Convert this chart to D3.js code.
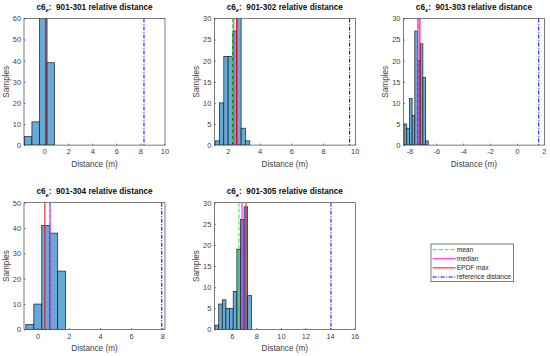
<!DOCTYPE html>
<html>
<head>
<meta charset="utf-8">
<script src="https://cdn.jsdelivr.net/npm/d3@7"></script>
<style>
  body { margin: 0; background: #fff; }
  svg { font-family: "Liberation Sans", Arial, sans-serif; }
</style>
</head>
<body>
<script>
// DATA

const pairs = ["901-301", "901-302", "901-303", "901-304", "901-305"];

const edges301 = [-1.66, -1.03, -0.40, 0.23, 0.86];
const counts301 = [4, 11, 63, 39];
const edges302 = [1.20, 1.47, 1.75, 2.02, 2.29, 2.57, 2.84, 3.11, 3.39];
const counts302 = [1, 10, 21, 21, 27, 32, 4, 1];
const edges303 = [-8.4, -8.2, -8.0, -7.8, -7.6, -7.4, -7.2, -7.0, -6.8, -6.6];
const counts303 = [5, 4, 11, 7, 27, 20, 24, 16, 1];
const edges304 = [-0.75, -0.24, 0.27, 0.78, 1.29, 1.80];
const counts304 = [2, 10, 41, 38, 23];
const edges305 = [4.63, 4.93, 5.22, 5.52, 5.81, 6.11, 6.41, 6.70, 7.00, 7.29, 7.59];
const counts305 = [1, 6, 7, 5, 5, 9, 19, 26, 29, 8];

const meanVals = [0.10, 2.30, -7.38, 0.80, 6.58];
const medianVals = [0.10, 2.38, -7.36, 0.80, 6.83];
const epdfMaxVals = [0.13, 2.56, -7.22, 0.47, 7.15];
const refVals = [8.30, 9.68, 1.63, 7.96, 14.08];

const xDomains = [[-1.69, 10.05], [1.15, 10.04], [-8.45, 2.05], [-0.87, 8.17], [4.57, 16.06]];
const yMaxes = [60, 30, 30, 50, 30];
const xTickVals = [[0, 2, 4, 6, 8, 10], [2, 4, 6, 8, 10], [-8, -6, -4, -2, 0, 2], [0, 2, 4, 6, 8], [6, 8, 10, 12, 14, 16]];
const yTickVals = [[0, 10, 20, 30, 40, 50, 60], [0, 5, 10, 15, 20, 25, 30], [0, 5, 10, 15, 20, 25, 30],
                   [0, 10, 20, 30, 40, 50], [0, 5, 10, 15, 20, 25, 30]];

const legendLabels = ["mean", "median", "EPDF max", "reference distance"];

const allEdges = [edges301, edges302, edges303, edges304, edges305];
const allCounts = [counts301, counts302, counts303, counts304, counts305];

// LAYOUT

const W = 550, H = 356;
const colX = [24, 214.3, 403.4];
const rowY = [18.4, 202.7];
const pw = 141, ph = 126.7;
const axisCol = "#262626";
const barFill = "rgb(102,170,215)";

const lineStyles = [
  { color: "#22ee22", dash: "4,2" },
  { color: "#ff00ff", dash: null },
  { color: "#ff0000", dash: null },
  { color: "#0000ff", dash: "4,1.5,1,1.5" }
];

const svg = d3.select("body").append("svg")
  .attr("width", W)
  .attr("height", H);

pairs.forEach((pair, i) => {
  const left = colX[i % 3];
  const top = rowY[Math.floor(i / 3)];

  const x = d3.scaleLinear().domain(xDomains[i]).range([0, pw]);
  const y = d3.scaleLinear().domain([0, yMaxes[i]]).range([ph, 0]);

  const g = svg.append("g").attr("transform", `translate(${left},${top})`);

  g.append("clipPath").attr("id", "clip" + i)
    .append("rect").attr("width", pw).attr("height", ph);

  const bins = allCounts[i].map((c, k) => ({ x0: allEdges[i][k], x1: allEdges[i][k + 1], n: c }));

  const plot = g.append("g").attr("clip-path", `url(#clip${i})`);

  plot.selectAll("rect.bar")
    .data(bins)
    .enter()
    .append("rect")
    .attr("class", "bar")
    .attr("x", d => x(d.x0))
    .attr("y", d => y(d.n))
    .attr("width", d => x(d.x1) - x(d.x0))
    .attr("height", d => y(0) - y(d.n))
    .attr("fill", barFill)
    .attr("stroke", "#1a1a1a")
    .attr("stroke-width", 0.7);

  const vals = [meanVals[i], medianVals[i], epdfMaxVals[i], refVals[i]];
  vals.forEach((v, k) => {
    plot.append("line")
      .attr("x1", x(v)).attr("x2", x(v))
      .attr("y1", 0).attr("y2", ph)
      .attr("stroke", lineStyles[k].color)
      .attr("stroke-width", 1)
      .attr("stroke-dasharray", lineStyles[k].dash);
  });

  // axes: box with inward ticks
  const xAxis = d3.axisBottom(x).tickValues(xTickVals[i]).tickSize(-1.5).tickPadding(4).tickFormat(d => String(d));
  const yAxis = d3.axisLeft(y).tickValues(yTickVals[i]).tickSize(-1.5).tickPadding(3).tickFormat(d => String(d));

  const gx = g.append("g").attr("transform", `translate(0,${ph})`).call(xAxis);
  const gy = g.append("g").call(yAxis);
  [gx, gy].forEach(a => {
    a.select(".domain").remove();
    a.selectAll("line").attr("stroke", axisCol).attr("stroke-width", 0.6);
    a.selectAll("text").attr("fill", "#404040").style("font-size", "7.4px");
  });

  g.append("rect")
    .attr("width", pw).attr("height", ph)
    .attr("fill", "none")
    .attr("stroke", axisCol)
    .attr("stroke-width", 0.6);

  const title = g.append("text")
    .attr("x", pw / 2).attr("y", -8.6)
    .attr("text-anchor", "middle")
    .attr("fill", "#111")
    .style("font-size", "8.2px")
    .style("font-weight", "bold")
    .style("white-space", "pre");
  title.append("tspan").text("c6");
  title.append("tspan").text("e").attr("dy", 2.6).style("font-size", "5.8px");
  title.append("tspan").text(`:  ${pair} relative distance`).attr("dy", -2.6);

  g.append("text")
    .text("Distance (m)")
    .attr("x", pw / 2).attr("y", ph + 22)
    .attr("text-anchor", "middle")
    .attr("fill", "#404040")
    .style("font-size", "8.2px");

  g.append("text")
    .text("Samples")
    .attr("transform", `translate(-15.5,${ph / 2}) rotate(-90)`)
    .attr("text-anchor", "middle")
    .attr("fill", "#404040")
    .style("font-size", "8.2px");
});

// LEGEND

const leg = svg.append("g").attr("transform", "translate(431,244)");
leg.append("rect")
  .attr("width", 82.7).attr("height", 37.7)
  .attr("fill", "#fff")
  .attr("stroke", axisCol)
  .attr("stroke-width", 0.6);

legendLabels.forEach((lab, k) => {
  const yy = 5.7 + k * 9.1;
  leg.append("line")
    .attr("x1", 1.7).attr("x2", 24.7)
    .attr("y1", yy).attr("y2", yy)
    .attr("stroke", lineStyles[k].color)
    .attr("stroke-width", 1)
    .attr("stroke-dasharray", lineStyles[k].dash);
  leg.append("text")
    .text(lab)
    .attr("x", 25.7).attr("y", yy + 2.3)
    .attr("fill", "#262626")
    .style("font-size", "6.6px");
});
</script>
</body>
</html>
